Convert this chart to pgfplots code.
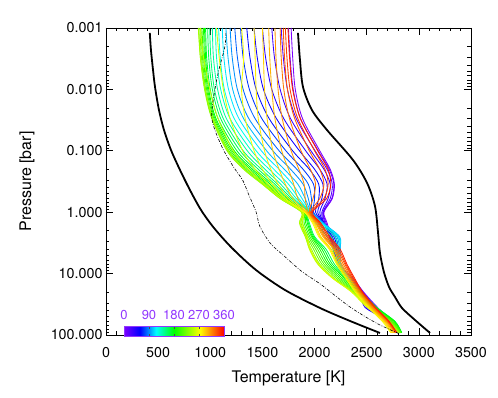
\documentclass[border=0pt]{standalone}
\usepackage{fontspec}
\setmainfont{TeX Gyre Heros}
\usepackage{pgfplots}
\usepackage{pgfplotstable}
\pgfplotsset{compat=1.18}
\usetikzlibrary{calc}

\definecolor{cbviolet}{RGB}{145,55,255}

% temperature profiles, one column per longitude (deg)
\pgfplotstableread{
P T0 T10 T20 T30 T40 T50 T60 T70 T80 T90 T100 T110 T120 T130 T140 T150 T160 T170 T180 T190 T200 T210 T220 T230 T240 T250 T260 T270 T280 T290 T300 T310 T320 T330 T340 T350
0.001 1775 1750 1680 1590 1500 1420 1350 1290 1235 1190 1150 1115 1080 1050 1020 995 975 955 945 935 920 910 900 890 885 905 1060 1300 1420 1500 1560 1620 1670 1700 1720 1745
0.003 1790 1765 1700 1615 1530 1450 1380 1315 1260 1210 1170 1130 1095 1060 1030 1005 985 965 955 945 935 925 915 905 905 935 1085 1320 1430 1510 1570 1630 1680 1712 1735 1760
0.01 1815 1795 1740 1670 1590 1510 1440 1375 1315 1260 1215 1175 1135 1100 1070 1040 1020 1000 985 975 965 955 950 945 950 995 1125 1300 1440 1520 1590 1650 1705 1740 1765 1790
0.03 1885 1865 1825 1770 1705 1635 1565 1495 1430 1370 1320 1275 1230 1190 1155 1125 1100 1075 1055 1045 1035 1025 1020 1015 1025 1075 1190 1335 1460 1545 1620 1690 1760 1810 1840 1865
0.1 2050 2035 2005 1965 1915 1855 1790 1725 1660 1600 1540 1490 1440 1395 1355 1315 1285 1255 1230 1210 1195 1180 1170 1160 1170 1220 1310 1420 1520 1600 1685 1775 1870 1950 2000 2030
0.2 2150 2140 2120 2090 2050 2000 1950 1890 1830 1770 1710 1660 1610 1565 1525 1490 1460 1430 1405 1385 1365 1350 1335 1320 1325 1365 1430 1500 1580 1660 1750 1850 1960 2050 2100 2130
0.35 2190 2185 2170 2150 2120 2080 2040 1990 1940 1890 1840 1790 1750 1710 1675 1645 1620 1595 1575 1555 1540 1525 1510 1500 1500 1520 1555 1595 1650 1720 1800 1900 2010 2090 2130 2155
0.6 2170 2165 2150 2130 2100 2070 2040 2000 1970 1940 1910 1880 1850 1825 1800 1780 1760 1740 1725 1710 1700 1690 1680 1670 1670 1680 1700 1720 1750 1790 1840 1910 1985 2050 2090 2115
1.0 2090 2085 2080 2070 2050 2030 2010 1990 1980 1975 1970 1965 1960 1955 1950 1945 1910 1905 1900 1895 1890 1885 1880 1875 1875 1880 1890 1900 1910 1920 1930 1940 1950 1960 1970 1980
1.5 2120 2110 2100 2090 2090 2090 2090 2085 2085 2085 2080 2070 2060 2045 2030 2010 1950 1940 1930 1915 1900 1885 1870 1860 1855 1860 1880 1980 1990 2000 2010 2020 2030 2040 2050 2060
2.5 2160 2150 2140 2150 2160 2170 2185 2200 2215 2230 2240 2235 2220 2195 2160 2120 2000 1990 1980 1970 1955 1940 1925 1915 1910 1915 1930 2040 2050 2060 2080 2090 2100 2115 2130 2145
4 2190 2185 2180 2190 2200 2210 2220 2230 2240 2245 2245 2240 2235 2220 2200 2175 2110 2090 2070 2050 2030 2010 1990 1970 1955 1950 1960 2140 2150 2160 2180 2190 2200 2215 2230 2245
7 2230 2225 2225 2230 2235 2240 2240 2245 2250 2250 2250 2245 2240 2235 2225 2215 2190 2170 2150 2130 2110 2090 2070 2050 2035 2030 2040 2210 2220 2230 2245 2260 2275 2290 2300 2310
12 2370 2365 2360 2355 2350 2345 2340 2340 2335 2330 2330 2325 2320 2320 2315 2310 2310 2300 2290 2270 2250 2230 2210 2190 2180 2175 2180 2300 2310 2320 2335 2345 2355 2365 2375 2385
20 2470 2465 2460 2455 2450 2445 2440 2440 2440 2435 2430 2430 2425 2425 2420 2420 2450 2440 2430 2420 2410 2400 2390 2380 2370 2360 2355 2390 2400 2410 2420 2430 2440 2450 2455 2460
35 2600 2590 2560 2500 2480 2500 2540 2560 2570 2575 2580 2580 2580 2580 2575 2570 2590 2590 2580 2570 2560 2550 2540 2530 2520 2510 2500 2510 2520 2530 2540 2550 2560 2570 2575 2580
60 2740 2735 2730 2720 2710 2705 2700 2700 2700 2705 2710 2715 2720 2720 2720 2720 2770 2770 2765 2760 2750 2740 2730 2720 2710 2700 2690 2650 2660 2670 2680 2690 2700 2705 2710 2715
92 2810 2805 2800 2800 2795 2790 2790 2795 2800 2805 2810 2815 2815 2820 2820 2825 2835 2835 2835 2830 2830 2825 2820 2815 2810 2800 2790 2730 2740 2750 2760 2770 2775 2780 2785 2790
}\tprof

\begin{document}
\begin{tikzpicture}
\begin{axis}[
  name=ax,
  scale only axis, width=365pt, height=307pt,
  xmin=0, xmax=3500,
  ymode=log, ymin=0.001, ymax=100, y dir=reverse,
  xtick={0,500,1000,1500,2000,2500,3000,3500},
  xticklabels={0,500,1000,1500,2000,2500,3000,3500},
  minor x tick num=4,
  ytick={0.001,0.01,0.1,1,10,100},
  yticklabels={0.001,0.010,0.100,1.000,10.000,100.000},
  tick align=inside, major tick length=7pt, minor tick length=3.5pt,
  every tick/.style={black, line width=0.6pt},
  axis line style={line width=0.8pt},
  font=\fontsize{16}{18}\selectfont,
  tick label style={font=\fontsize{14.3}{16}\selectfont},
  xticklabel style={yshift=-9pt},
  xlabel={Temperature [K]}, ylabel={Pressure [bar]},
  every axis x label/.style={at={(axis description cs:0.5,-0.140)}, anchor=center},
  every axis y label/.style={at={(axis description cs:-0.2164,0.5)}, rotate=90, anchor=center},
  colormap={idl}{rgb255(0cm)=(125,0,255); rgb255(1.6cm)=(0,0,255);
    rgb255(3.2cm)=(0,255,255); rgb255(5cm)=(0,255,0);
    rgb255(7.6cm)=(255,255,0); rgb255(10cm)=(255,0,0)},
  point meta min=0, point meta max=360,
  colorbar horizontal,
  colorbar style={
    at={(parent axis.south west)}, anchor=south west,
    xshift=18pt, yshift=7.5pt,
    scale only axis, width=100pt, height=9.5pt,
    xtick={0,90,180,270,360}, xticklabels={0,90,180,270,360},
    xticklabel pos=upper, xtick pos=both, ytick=\empty,
    tick align=inside, major tick length=2.5pt,
    every tick/.style={black!70, line width=0.5pt},
    xticklabel style={text=cbviolet, font=\fontsize{13}{15}\selectfont, yshift=3pt},
    axis line style={draw=cbviolet, line width=0.8pt},
  },
]

\foreach \p/\v in {0/0,10/27.78,20/55.56,30/83.33,40/111.11,50/138.89,
    60/166.67,70/194.44,80/222.22,90/250,100/277.78,110/305.56,120/333.33,
    130/361.11,140/388.89,150/416.67,160/444.44,170/472.22,180/500,
    190/527.78,200/555.56,210/583.33,220/611.11,230/638.89,240/666.67,
    250/694.44,260/722.22,270/750,280/777.78,290/805.56,300/833.33,
    310/861.11,320/888.89,330/916.67,340/944.44,350/972.22} {
  \edef\tmp{\noexpand\addplot[color of colormap=\v, line width=0.85pt,
    smooth, tension=0.5] table[x=T\p, y=P] {\noexpand\tprof};}
  \tmp
}

% cold limit
\addplot[black, line width=1.8pt, smooth] coordinates {
  (420,0.0012) (431,0.00228) (451,0.00483) (470,0.00914) (508,0.0217)
  (556,0.0458) (623,0.097) (710,0.206) (805,0.435) (911,0.92)
  (1036,1.81) (1208,3.83) (1438,8.73) (1716,18.5) (2052,36.3)
  (2340,59.1) (2627,92.7)};
% hot limit
\addplot[black, line width=1.8pt, smooth] coordinates {
  (1841,0.0012) (1860,0.00332) (1889,0.00914) (1975,0.0217) (2119,0.0458)
  (2368,0.141) (2503,0.334) (2579,0.792) (2608,2.10) (2627,4.61)
  (2665,9.42) (2714,16.5) (2771,24.0) (2838,36.3) (2963,57.0) (3107,92.7)};
% reference profile
\addplot[black, line width=0.6pt, smooth,
  dash pattern=on 3pt off 1.5pt on 0.8pt off 1.5pt] coordinates {
  (1150,0.0012) (1140,0.002) (1080,0.005) (1045,0.01) (1015,0.03)
  (1110,0.085) (1220,0.18) (1310,0.3) (1365,0.5) (1440,1.0) (1475,1.7)
  (1575,3.2) (1710,5.2) (1880,9.3) (2060,15) (2340,35) (2600,65) (2810,95)};

\end{axis}
\pgfresetboundingbox
\path[use as bounding box] ($(ax.south west)+(-106pt,-63pt)$)
  rectangle ($(ax.north east)+(27pt,28pt)$);
\end{tikzpicture}
\end{document}
